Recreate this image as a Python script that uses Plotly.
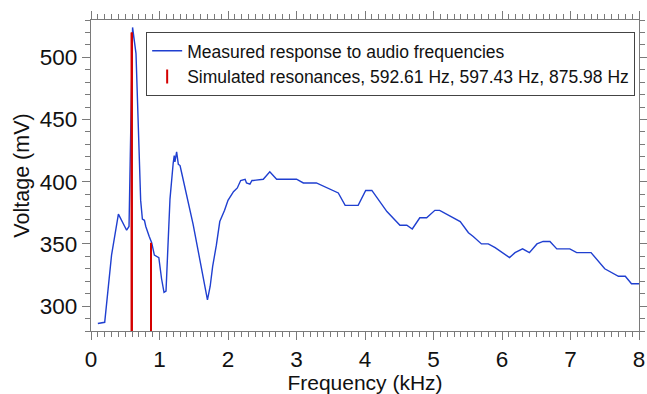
import plotly.graph_objects as go

# Measured response (frequency in kHz, voltage in mV)
freq_khz = [0.10, 0.20, 0.30, 0.40, 0.52, 0.555, 0.607, 0.657, 0.725, 0.75,
            0.78, 0.80, 0.85, 0.886, 0.925, 0.96, 0.99, 1.03, 1.066, 1.095,
            1.153, 1.20, 1.215, 1.225, 1.25, 1.275, 1.30, 1.32, 1.40, 1.49,
            1.59, 1.66, 1.70, 1.74, 1.776, 1.83, 1.88, 1.95, 2.00, 2.08,
            2.136, 2.185, 2.25, 2.27, 2.32, 2.35, 2.37, 2.515, 2.61, 2.71,
            3.00, 3.10, 3.29, 3.61, 3.71, 3.90, 4.01, 4.10, 4.32, 4.51,
            4.61, 4.69, 4.80, 4.90, 5.02, 5.09, 5.39, 5.51, 5.58, 5.70,
            5.80, 5.90, 6.11, 6.19, 6.30, 6.40, 6.51, 6.60, 6.70, 6.80,
            6.99, 7.09, 7.30, 7.50, 7.70, 7.80, 7.89, 8.00]
voltage_mv = [286, 287, 341, 374, 361, 364, 524, 503, 385, 370,
              369, 364, 356, 351, 341, 340, 339, 322, 311, 312,
              386, 415, 421, 416, 424, 414, 413, 408, 388, 366,
              337, 315, 305, 316, 332, 349, 368, 377, 385, 392,
              395, 401, 402, 399, 398, 401, 401, 402, 408, 402,
              402, 399, 399, 391, 381, 381, 393, 393, 376, 365,
              365, 362, 371, 371, 377, 377, 368, 359, 356, 350,
              350, 347, 339, 343, 346, 343, 350, 352, 352, 346,
              346, 343, 343, 330, 324, 324, 318, 318]

# Simulated resonances (kHz) and stem heights (mV)
res_khz = [0.59261, 0.59743, 0.87598]
res_mv = [520, 520, 351]
res_label = "Simulated resonances, 592.61 Hz, 597.43 Hz, 875.98 Hz"

y_floor = 280
y_top = 530

BLUE = "#1f3fd0"
RED = "#d40000"
FRAME = "#7a7a7a"
FONT = "Liberation Sans, Arial, sans-serif"

stem_x, stem_y = [], []
for f, v in zip(res_khz, res_mv):
    stem_x += [f, f, None]
    stem_y += [y_floor, v, None]

fig = go.Figure()
fig.add_trace(go.Scatter(
    x=freq_khz, y=voltage_mv, mode="lines",
    line=dict(color=BLUE, width=1.4),
    name="Measured response to audio frequencies",
))
fig.add_trace(go.Scatter(
    x=stem_x, y=stem_y, mode="lines",
    line=dict(color=RED, width=2),
    showlegend=False, legendgroup="res",
))
fig.add_trace(go.Scatter(
    x=[None], y=[None], mode="markers",
    marker=dict(symbol="line-ns-open", color=RED, size=10,
                line=dict(color=RED, width=2)),
    name=res_label, legendgroup="res",
))

axis_common = dict(
    showline=True, linecolor=FRAME, linewidth=1.2, mirror="allticks",
    ticks="outside", ticklen=8, tickwidth=1, tickcolor=FRAME,
    showgrid=False, zeroline=False, automargin=False,
    tickfont=dict(family=FONT, size=22.5, color="#111"),
)

fig.update_xaxes(
    range=[0, 8], dtick=1, tick0=0,
    minor=dict(dtick=0.1, ticks="outside", ticklen=4.5, tickcolor=FRAME, showgrid=False),
    title=dict(text="Frequency (kHz)", font=dict(family=FONT, size=21, color="#111"), standoff=4),
    **axis_common,
)
fig.update_yaxes(
    range=[y_floor, y_top], tickvals=[300, 350, 400, 450, 500],
    minor=dict(dtick=10, tick0=0, ticks="outside", ticklen=4.5, tickcolor=FRAME, showgrid=False),
    title=dict(text="Voltage (mV)", font=dict(family=FONT, size=21.5, color="#111"), standoff=4),
    **axis_common,
)

fig.update_layout(
    width=647, height=394,
    margin=dict(l=91, r=8, t=20, b=63),
    plot_bgcolor="white", paper_bgcolor="white",
    font=dict(family=FONT, color="#111"),
    legend=dict(
        x=0.993, xanchor="right", y=0.962, yanchor="top",
        bgcolor="white", bordercolor="#444", borderwidth=1,
        font=dict(family=FONT, size=17.5, color="#111"),
        tracegroupgap=0, itemwidth=30,
    ),
)

fig.write_html("out.html")
